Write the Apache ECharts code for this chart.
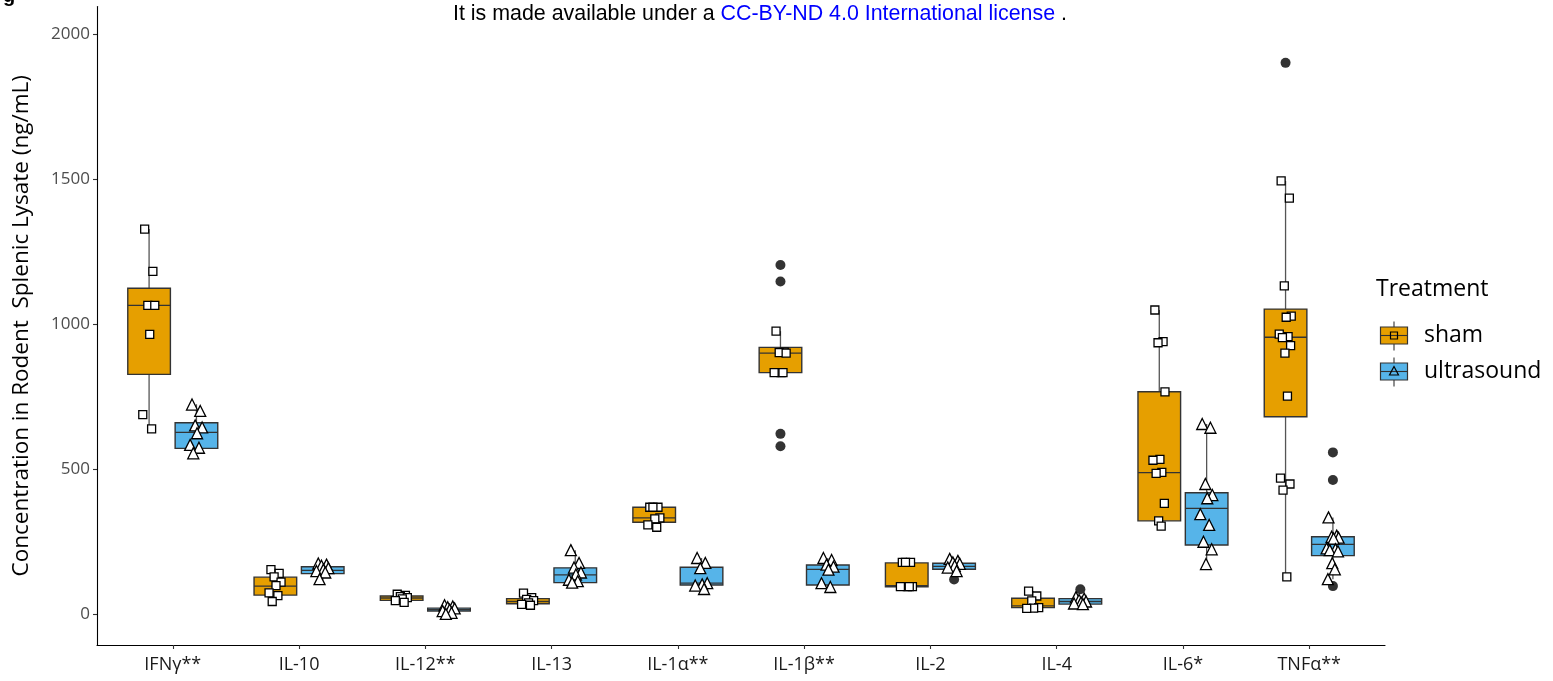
<!DOCTYPE html>
<html><head><meta charset="utf-8">
<script src="https://cdn.jsdelivr.net/npm/echarts@6/dist/echarts.min.js"></script>
<style>html,body{margin:0;padding:0;background:#fff}#c{width:1553px;height:681px}</style>
</head><body><div id="c"></div>
<script>
// ---------- data ----------
const categories = ['IFNγ**','IL-10','IL-12**','IL-13','IL-1α**','IL-1β**','IL-2','IL-4','IL-6*','TNFα**'];
const yTicks = [0, 500, 1000, 1500, 2000];
const seriesNames = ['sham', 'ultrasound'];

// box statistics per category: [lower whisker, Q1, median, Q3, upper whisker]
const shamBox = [
  [640, 828, 1066, 1125, 1329],
  [45, 67, 98, 129, 158],
  [40, 49, 57, 64, 70],
  [32, 37, 45, 55, 74],
  [300, 318, 333, 370, 370],
  [834, 834, 901, 921, 977],
  [96, 96, 100, 178, 180],
  [21, 24, 30, 56, 81],
  [305, 323, 489, 768, 1050],
  [130, 682, 956, 1053, 1495]
];
const ultraBox = [
  [557, 573, 628, 661, 725],
  [118, 141, 152, 165, 178],
  [2, 12, 17, 22, 32],
  [108, 110, 137, 161, 222],
  [88, 102, 108, 163, 195],
  [90, 102, 156, 171, 195],
  [145, 156, 166, 177, 192],
  [36, 36, 45, 55, 60],
  [174, 240, 366, 420, 657],
  [122, 203, 242, 268, 335]
];
// individual observations (jittered points)
const shamPoints = [
  [1329, 1183, 1066, 1066, 966, 689, 640],
  [155, 142, 130, 112, 100, 75, 65, 45],
  [70, 66, 62, 58, 54, 48, 42],
  [74, 58, 52, 48, 40, 35, 32],
  [370, 370, 370, 333, 330, 309, 301],
  [977, 905, 903, 901, 834, 834, 834],
  [180, 180, 180, 96, 96, 96, 96],
  [81, 64, 47, 24, 22, 21],
  [1050, 941, 937, 768, 535, 532, 490, 487, 383, 323, 305],
  [1495, 1436, 1133, 1029, 1025, 967, 958, 955, 927, 901, 753, 470, 450, 429, 130]
];
const ultraPoints = [
  [724, 702, 652, 645, 625, 585, 575, 556],
  [176, 172, 168, 160, 155, 150, 145, 122],
  [32, 28, 25, 21, 17, 12, 6, 2],
  [222, 178, 162, 145, 138, 120, 115, 110],
  [195, 178, 160, 108, 104, 100, 88],
  [195, 188, 172, 165, 155, 108, 95],
  [192, 185, 180, 175, 168, 162, 150],
  [60, 55, 50, 45, 42, 38, 36],
  [657, 644, 450, 412, 401, 346, 309, 251, 225, 174],
  [335, 272, 268, 265, 262, 228, 225, 222, 218, 177, 156, 122]
];
// boxplot outliers
const shamOutliers = [[], [], [], [], [], [1205, 1148, 623, 580], [], [], [], [1902]];
const ultraOutliers = [[], [], [], [], [], [], [121], [87], [], [559, 464, 98]];

// ---------- chart ----------
const SHAM_COLOR = '#E69F00', ULTRA_COLOR = '#56B4E9';
const DODGE = 0.1875, BOX_W = 0.3375;
const JIT = [-0.035, 0.03, -0.01, 0.045, 0.005, -0.05, 0.02, -0.025, 0.04, -0.005, 0.015, -0.04, 0.035, -0.02, 0.01];
const LINE = '#333333';

function boxSeries(name, boxes, offset, color) {
  return {
    type: 'custom', name, z: 2,
    data: boxes.map((b, i) => [i + 1 + offset, b[0], b[1], b[2], b[3], b[4]]),
    encode: { x: 0, y: [1, 2, 3, 4, 5] },
    renderItem: (params, api) => {
      const x = api.value(0);
      const pMin = api.coord([x, api.value(1)]);
      const pQ1 = api.coord([x, api.value(2)]);
      const pMed = api.coord([x, api.value(3)]);
      const pQ3 = api.coord([x, api.value(4)]);
      const pMax = api.coord([x, api.value(5)]);
      const left = api.coord([x - BOX_W / 2, 0])[0];
      const right = api.coord([x + BOX_W / 2, 0])[0];
      const ls = { stroke: '#555555', lineWidth: 1.3 };
      return { type: 'group', children: [
        { type: 'line', shape: { x1: pMax[0], y1: pMax[1], x2: pQ3[0], y2: pQ3[1] }, style: ls },
        { type: 'line', shape: { x1: pQ1[0], y1: pQ1[1], x2: pMin[0], y2: pMin[1] }, style: ls },
        { type: 'rect', shape: { x: left, y: pQ3[1], width: right - left, height: Math.max(pQ1[1] - pQ3[1], 1) },
          style: { fill: color, stroke: LINE, lineWidth: 1.4 } },
        { type: 'line', shape: { x1: left, y1: pMed[1], x2: right, y2: pMed[1] }, style: { stroke: LINE, lineWidth: 1.3 } }
      ]};
    }
  };
}
function pointSeries(pts, offset, symbol, size) {
  const data = [];
  pts.forEach((arr, i) => arr.forEach((v, j) => data.push([i + 1 + offset + JIT[j % JIT.length], v])));
  return { type: 'scatter', data, symbol, symbolSize: size, z: 4,
    itemStyle: { color: '#ffffff', borderColor: '#000000', borderWidth: 1.3, opacity: 1 } };
}
function outlierSeries(outs, offset) {
  const data = [];
  outs.forEach((arr, i) => arr.forEach(v => data.push([i + 1 + offset, v])));
  return { type: 'scatter', data, symbol: 'circle', symbolSize: 10, z: 3,
    itemStyle: { color: '#333333', opacity: 1 } };
}

const catTicks = categories.map((c, i) => i + 1);
const chart = echarts.init(document.getElementById('c'), null, { renderer: 'canvas' });
const FONT = 'Open Sans';

function legendItem(y, color, symbol, label) {
  return [
    { type: 'line', shape: { x1: 1394, y1: y - 14, x2: 1394, y2: y + 15 }, style: { stroke: LINE, lineWidth: 1.1 } },
    { type: 'rect', shape: { x: 1380.5, y: y - 8.5, width: 27, height: 17 }, style: { fill: color, stroke: LINE, lineWidth: 1.2 } },
    { type: 'line', shape: { x1: 1380.5, y1: y, x2: 1407.5, y2: y }, style: { stroke: LINE, lineWidth: 1.1 } },
    symbol === 'rect'
      ? { type: 'rect', shape: { x: 1390.5, y: y - 3.5, width: 7, height: 7 }, style: { fill: 'none', stroke: '#000', lineWidth: 1.2 } }
      : { type: 'polygon', shape: { points: [[1394, y - 5], [1398.5, y + 3.5], [1389.5, y + 3.5]] }, style: { fill: 'none', stroke: '#000', lineWidth: 1.2 } },
    { type: 'text', x: 1424, y: y, style: { text: label, font: '23px "Open Sans"', fill: '#000', verticalAlign: 'middle' } }
  ];
}

chart.setOption({
  animation: false,
  backgroundColor: '#ffffff',
  grid: { left: 97, right: 168, top: 6.6, bottom: 36 },
  xAxis: {
    type: 'value', min: 0.4, max: 10.6,
    axisLine: { show: true, onZero: false, lineStyle: { color: '#000', width: 1.1 } },
    axisTick: { show: true, customValues: catTicks, length: 4, lineStyle: { color: '#333', width: 1.1 } },
    axisLabel: { customValues: catTicks, margin: 11, fontFamily: FONT, fontSize: 18, color: '#1a1a1a',
      formatter: v => categories[Math.round(v) - 1] },
    splitLine: { show: false }
  },
  yAxis: {
    type: 'value', min: -105, max: 2096,
    name: 'Concentration in Rodent  Splenic Lysate (ng/mL)',
    nameLocation: 'middle', nameGap: 64,
    nameTextStyle: { fontFamily: FONT, fontSize: 22.5, color: '#000' },
    axisLine: { show: true, onZero: false, lineStyle: { color: '#000', width: 1.1 } },
    axisTick: { show: true, customValues: yTicks, length: 4, lineStyle: { color: '#333', width: 1.1 } },
    axisLabel: { customValues: yTicks, margin: 7, fontFamily: FONT, fontSize: 17, color: '#4d4d4d',
      formatter: v => String(v) },
    splitLine: { show: false }
  },
  graphic: [
    { type: 'text', left: 453, top: 4, style: { rich: {
        a: { fontFamily: 'Liberation Sans', fontSize: 21.4, fill: '#000' },
        b: { fontFamily: 'Liberation Sans', fontSize: 21.4, fill: '#0000ff' } },
      text: '{a|It is made available under a }{b|CC-BY-ND 4.0 International license}{a| .}' } },
    { type: 'text', left: 3, top: -14, style: { text: 'g', font: 'bold 20px "Liberation Sans"', fill: '#000' } },
    { type: 'text', left: 1376, top: 278, style: { text: 'Treatment', font: '23px "Open Sans"', fill: '#000' } },
    ...legendItem(335.5, SHAM_COLOR, 'rect', seriesNames[0]),
    ...legendItem(371.5, ULTRA_COLOR, 'triangle', seriesNames[1])
  ],
  series: [
    boxSeries(seriesNames[0], shamBox, -DODGE, SHAM_COLOR),
    boxSeries(seriesNames[1], ultraBox, DODGE, ULTRA_COLOR),
    outlierSeries(shamOutliers, -DODGE),
    outlierSeries(ultraOutliers, DODGE),
    pointSeries(shamPoints, -DODGE, 'rect', 8),
    pointSeries(ultraPoints, DODGE, 'triangle', 11)
  ]
});
</script></body></html>
